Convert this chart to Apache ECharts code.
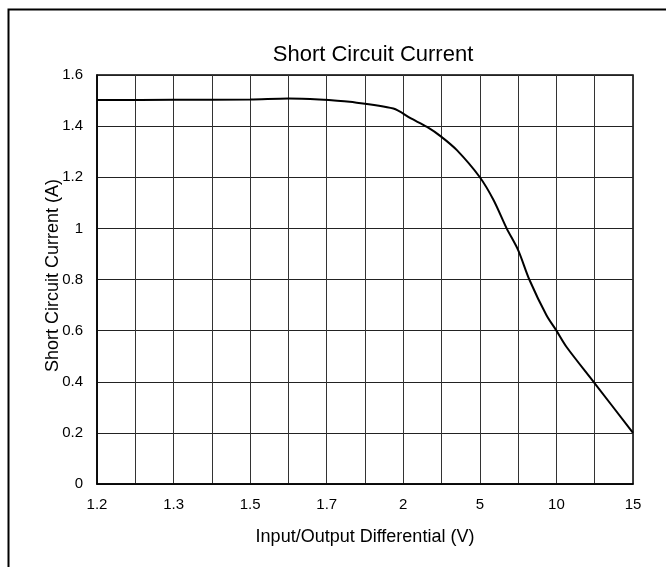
<!DOCTYPE html>
<html>
<head>
<meta charset="utf-8">
<script src="https://cdn.jsdelivr.net/npm/echarts@6/dist/echarts.min.js"></script>
<style>
  html, body { margin: 0; padding: 0; background: #fff; }
  #main { width: 666px; height: 567px; }
</style>
</head>
<body>
<div id="main"></div>
<script>
// tick labels sit at evenly spaced positions (0..7), like the original plot
var xTickLabels = ['1.2', '1.3', '1.5', '1.7', '2', '5', '10', '15'];
// curve position along the x axis, in tick-label units
var xPos = [0, 1, 2, 2.5, 2.9, 3.3, 3.87, 4.1, 4.31, 4.49, 4.7, 5, 5.18, 5.35, 5.5, 5.65, 5.87, 6, 6.13, 6.5, 7];
var current = [1.502, 1.503, 1.504, 1.508, 1.504, 1.495, 1.469, 1.43, 1.397, 1.36, 1.306, 1.2, 1.11, 1.0, 0.915, 0.797, 0.66, 0.6, 0.537, 0.394, 0.2];

var chart = echarts.init(document.getElementById('main'));

var pts = xPos.map(function (x, i) { return [x, current[i]]; });
var font = 'Liberation Sans, Arial, sans-serif';

var option = {
  backgroundColor: '#fff',
  animation: false,
  textStyle: { fontFamily: font },
  title: {
    text: 'Short Circuit Current',
    left: 368,
    textAlign: 'center',
    top: 39,
    textStyle: { fontSize: 22, fontWeight: 'normal', color: '#000', fontFamily: font }
  },
  graphic: [{
    type: 'rect',
    left: 6,
    top: 7,
    shape: { width: 700, height: 620 },
    style: { fill: 'none', stroke: '#000', lineWidth: 2 },
    silent: true
  }],
  grid: { left: 97, top: 75, right: 33, bottom: 83, show: true, borderColor: '#000', borderWidth: 1.5 },
  xAxis: {
    type: 'value',
    min: 0,
    max: 7,
    interval: 0.5,
    name: 'Input/Output Differential (V)',
    nameLocation: 'middle',
    nameGap: 44,
    nameMoveOverlap: false,
    nameTextStyle: { fontSize: 18, color: '#000' },
    axisLine: { show: true, lineStyle: { color: '#000', width: 1.5 } },
    axisTick: { show: false },
    axisLabel: {
      fontSize: 15,
      color: '#000',
      margin: 13,
      showMinLabel: true,
      showMaxLabel: true,
      formatter: function (v) {
        return Number.isInteger(v) ? xTickLabels[v] : '';
      }
    },
    splitLine: { show: true, lineStyle: { color: '#333', width: 1 } }
  },
  yAxis: {
    type: 'value',
    min: 0,
    max: 1.6,
    interval: 0.2,
    name: 'Short Circuit Current (A)',
    nameLocation: 'middle',
    nameGap: 35,
    nameMoveOverlap: false,
    nameTextStyle: { fontSize: 18, color: '#000', padding: [0, 0, 0, 8] },
    axisLine: { show: true, lineStyle: { color: '#000', width: 1.5 } },
    axisTick: { show: false },
    axisLabel: {
      fontSize: 15,
      color: '#000',
      margin: 14,
      formatter: function (v) { return String(Math.round(v * 10) / 10); }
    },
    splitLine: { show: true, lineStyle: { color: '#222', width: 1 } }
  },
  series: [{
    type: 'line',
    data: pts,
    smooth: 0.3,
    symbol: 'none',
    lineStyle: { color: '#000', width: 2 }
  }]
};

chart.setOption(option);
</script>
</body>
</html>
